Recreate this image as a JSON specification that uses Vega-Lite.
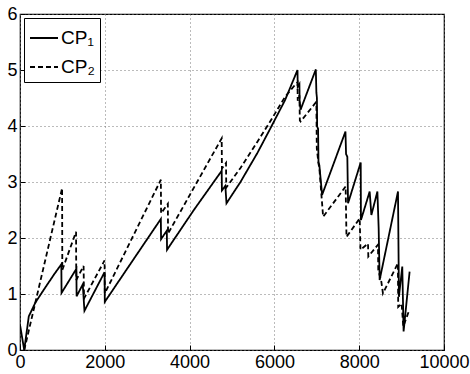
{
  "$schema": "https://vega.github.io/schema/vega-lite/v6.json",
  "width": 424,
  "height": 336,
  "autosize": "none",
  "padding": {"left": 20, "top": 14, "right": 26, "bottom": 24},
  "background": "white",
  "config": {
    "view": {"stroke": "black", "strokeWidth": 1.2},
    "font": "Liberation Sans",
    "axis": {
      "domain": false,
      "grid": true,
      "gridColor": "#777",
      "gridDash": [1, 3],
      "gridWidth": 1,
      "tickSize": -5,
      "tickColor": "black",
      "labelFont": "Liberation Sans",
      "labelFontSize": 18,
      "labelColor": "black",
      "title": null
    }
  },
  "data": {
    "values": [
      {"x": 0, "y": 0.45, "s": "CP₁"},
      {"x": 100, "y": 0.0, "s": "CP₁"},
      {"x": 207, "y": 0.6, "s": "CP₁"},
      {"x": 365, "y": 0.85, "s": "CP₁"},
      {"x": 600, "y": 1.12, "s": "CP₁"},
      {"x": 795, "y": 1.34, "s": "CP₁"},
      {"x": 975, "y": 1.53, "s": "CP₁"},
      {"x": 980, "y": 1.02, "s": "CP₁"},
      {"x": 1330, "y": 1.45, "s": "CP₁"},
      {"x": 1335, "y": 0.96, "s": "CP₁"},
      {"x": 1480, "y": 1.17, "s": "CP₁"},
      {"x": 1520, "y": 0.7, "s": "CP₁"},
      {"x": 1995, "y": 1.39, "s": "CP₁"},
      {"x": 2000, "y": 0.86, "s": "CP₁"},
      {"x": 2660, "y": 1.6, "s": "CP₁"},
      {"x": 3322, "y": 2.34, "s": "CP₁"},
      {"x": 3327, "y": 1.98, "s": "CP₁"},
      {"x": 3463, "y": 2.13, "s": "CP₁"},
      {"x": 3468, "y": 1.79, "s": "CP₁"},
      {"x": 4100, "y": 2.5, "s": "CP₁"},
      {"x": 4757, "y": 3.2, "s": "CP₁"},
      {"x": 4762, "y": 2.85, "s": "CP₁"},
      {"x": 4843, "y": 2.93, "s": "CP₁"},
      {"x": 4870, "y": 2.62, "s": "CP₁"},
      {"x": 5200, "y": 3.0, "s": "CP₁"},
      {"x": 5600, "y": 3.52, "s": "CP₁"},
      {"x": 5900, "y": 3.95, "s": "CP₁"},
      {"x": 6250, "y": 4.46, "s": "CP₁"},
      {"x": 6545, "y": 5.0, "s": "CP₁"},
      {"x": 6550, "y": 4.7, "s": "CP₁"},
      {"x": 6590, "y": 4.75, "s": "CP₁"},
      {"x": 6595, "y": 4.45, "s": "CP₁"},
      {"x": 6617, "y": 4.29, "s": "CP₁"},
      {"x": 6977, "y": 5.01, "s": "CP₁"},
      {"x": 6990, "y": 4.6, "s": "CP₁"},
      {"x": 7003, "y": 4.5, "s": "CP₁"},
      {"x": 7008, "y": 3.99, "s": "CP₁"},
      {"x": 7030, "y": 3.95, "s": "CP₁"},
      {"x": 7040, "y": 3.35, "s": "CP₁"},
      {"x": 7060, "y": 3.3, "s": "CP₁"},
      {"x": 7125, "y": 2.77, "s": "CP₁"},
      {"x": 7676, "y": 3.9, "s": "CP₁"},
      {"x": 7690, "y": 3.5, "s": "CP₁"},
      {"x": 7720, "y": 3.45, "s": "CP₁"},
      {"x": 7737, "y": 2.62, "s": "CP₁"},
      {"x": 8036, "y": 3.35, "s": "CP₁"},
      {"x": 8041, "y": 2.32, "s": "CP₁"},
      {"x": 8247, "y": 2.83, "s": "CP₁"},
      {"x": 8287, "y": 2.41, "s": "CP₁"},
      {"x": 8429, "y": 2.83, "s": "CP₁"},
      {"x": 8459, "y": 2.17, "s": "CP₁"},
      {"x": 8482, "y": 1.25, "s": "CP₁"},
      {"x": 8915, "y": 2.83, "s": "CP₁"},
      {"x": 8937, "y": 0.95, "s": "CP₁"},
      {"x": 9016, "y": 1.49, "s": "CP₁"},
      {"x": 9047, "y": 0.33, "s": "CP₁"},
      {"x": 9189, "y": 1.4, "s": "CP₁"},
      {"x": 100, "y": 0.0, "s": "CP₂"},
      {"x": 993, "y": 2.89, "s": "CP₂"},
      {"x": 998, "y": 1.43, "s": "CP₂"},
      {"x": 1322, "y": 2.11, "s": "CP₂"},
      {"x": 1327, "y": 1.25, "s": "CP₂"},
      {"x": 1500, "y": 1.5, "s": "CP₂"},
      {"x": 1510, "y": 0.92, "s": "CP₂"},
      {"x": 1995, "y": 1.6, "s": "CP₂"},
      {"x": 2000, "y": 1.01, "s": "CP₂"},
      {"x": 3322, "y": 3.04, "s": "CP₂"},
      {"x": 3327, "y": 2.44, "s": "CP₂"},
      {"x": 3487, "y": 2.61, "s": "CP₂"},
      {"x": 3492, "y": 2.08, "s": "CP₂"},
      {"x": 4757, "y": 3.78, "s": "CP₂"},
      {"x": 4762, "y": 3.24, "s": "CP₂"},
      {"x": 4859, "y": 3.34, "s": "CP₂"},
      {"x": 4864, "y": 2.9, "s": "CP₂"},
      {"x": 5200, "y": 3.25, "s": "CP₂"},
      {"x": 5600, "y": 3.72, "s": "CP₂"},
      {"x": 5900, "y": 4.08, "s": "CP₂"},
      {"x": 6250, "y": 4.52, "s": "CP₂"},
      {"x": 6482, "y": 4.73, "s": "CP₂"},
      {"x": 6545, "y": 4.78, "s": "CP₂"},
      {"x": 6550, "y": 4.45, "s": "CP₂"},
      {"x": 6590, "y": 4.55, "s": "CP₂"},
      {"x": 6600, "y": 4.1, "s": "CP₂"},
      {"x": 6617, "y": 4.08, "s": "CP₂"},
      {"x": 6977, "y": 4.42, "s": "CP₂"},
      {"x": 6990, "y": 4.4, "s": "CP₂"},
      {"x": 7000, "y": 3.6, "s": "CP₂"},
      {"x": 7040, "y": 3.33, "s": "CP₂"},
      {"x": 7060, "y": 3.25, "s": "CP₂"},
      {"x": 7149, "y": 2.38, "s": "CP₂"},
      {"x": 7680, "y": 2.92, "s": "CP₂"},
      {"x": 7700, "y": 2.02, "s": "CP₂"},
      {"x": 8012, "y": 2.35, "s": "CP₂"},
      {"x": 8030, "y": 1.79, "s": "CP₂"},
      {"x": 8208, "y": 1.9, "s": "CP₂"},
      {"x": 8215, "y": 1.67, "s": "CP₂"},
      {"x": 8443, "y": 1.88, "s": "CP₂"},
      {"x": 8450, "y": 1.43, "s": "CP₂"},
      {"x": 8522, "y": 1.22, "s": "CP₂"},
      {"x": 8560, "y": 1.01, "s": "CP₂"},
      {"x": 8913, "y": 1.55, "s": "CP₂"},
      {"x": 8920, "y": 0.77, "s": "CP₂"},
      {"x": 9000, "y": 0.83, "s": "CP₂"},
      {"x": 9040, "y": 0.42, "s": "CP₂"},
      {"x": 9165, "y": 0.68, "s": "CP₂"}
    ]
  },
  "mark": {"type": "line", "strokeWidth": 1.8, "color": "black", "clip": true},
  "encoding": {
    "x": {
      "field": "x", "type": "quantitative",
      "scale": {"domain": [0, 10000], "nice": false},
      "axis": {"values": [0, 2000, 4000, 6000, 8000, 10000], "format": "d", "labelPadding": 8, "labelFlush": false, "labelOverlap": false}
    },
    "y": {
      "field": "y", "type": "quantitative",
      "scale": {"domain": [0, 6], "nice": false, "zero": false},
      "axis": {"values": [0, 1, 2, 3, 4, 5, 6], "format": "d", "labelPadding": 8, "labelFlush": false, "labelOverlap": false}
    },
    "strokeDash": {
      "field": "s", "type": "nominal",
      "scale": {"domain": ["CP₁", "CP₂"], "range": [[1, 0], [5, 3]]},
      "legend": {
        "title": null,
        "orient": "none",
        "legendX": 4,
        "legendY": 4,
        "strokeColor": "black",
        "fillColor": "white",
        "padding": 5,
        "symbolType": "stroke",
        "symbolSize": 784,
        "symbolStrokeWidth": 1.8,
        "symbolStrokeColor": "black",
        "labelFontSize": 19,
        "labelFont": "Liberation Sans",
        "labelColor": "black",
        "labelOffset": 2,
        "rowPadding": 4
      }
    },
    "order": {"value": null}
  }
}
